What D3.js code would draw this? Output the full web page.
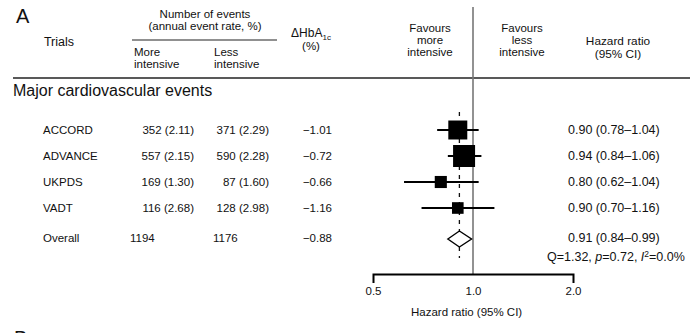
<!DOCTYPE html>
<html>
<head>
<meta charset="utf-8">
<script src="https://cdn.jsdelivr.net/npm/d3@7"></script>
<style>
  body { margin: 0; background: #fff; }
  svg { display: block; font-family: "Liberation Sans", Arial, sans-serif; }
  text { fill: #111; }
</style>
</head>
<body>
<svg id="chart" width="690" height="333"></svg>
<script>
// data
const trials = ["ACCORD", "ADVANCE", "UKPDS", "VADT"];
const moreEvents = [352, 557, 169, 116];
const moreRate = [2.11, 2.15, 1.30, 2.68];
const lessEvents = [371, 590, 87, 128];
const lessRate = [2.29, 2.28, 1.60, 2.98];
const deltaHbA1c = [-1.01, -0.72, -0.66, -1.16];
const hazard = [0.90, 0.94, 0.80, 0.90];
const ciLow = [0.78, 0.84, 0.62, 0.70];
const ciHigh = [1.04, 1.06, 1.04, 1.16];
const weights = [32, 43, 13, 12]; // study weight, sets box size

const overall = { more: 1194, less: 1176, hba1c: -0.88, hr: 0.91, lo: 0.84, hi: 0.99 };
const heterogeneity = { Q: 1.32, p: 0.72, I2: 0.0 };
const axisTicks = [0.5, 1, 2];

const svg = d3.select("#chart");
const f2 = d3.format(".2f");

// scales
const x = d3.scaleLog().domain([0.5, 2]).range([373, 573]);
const y = d3.scalePoint().domain(trials).range([130, 208]);
const yOverall = 239;
const box = d3.scaleSqrt().domain([0, d3.max(weights)]).range([0, 22]);

const rows = trials.map((t, i) => ({
    name: t, more: moreEvents[i], moreRate: moreRate[i], less: lessEvents[i], lessRate: lessRate[i],
    hb: deltaHbA1c[i], hr: hazard[i], lo: ciLow[i], hi: ciHigh[i], w: weights[i]
}));

// multi-line header labels: one text per line so lines don't overlap
function label(xc, y0, lines, anchor = "middle", size = 11.5, step = 12) {
    lines.forEach((l, i) => svg.append("text")
        .attr("x", xc).attr("y", y0 + i * step)
        .attr("text-anchor", anchor).style("font-size", size + "px").text(l));
}

// ---- header ----
svg.append("text").attr("x", 16).attr("y", 23).style("font-size", "20px").text("A");
label(59, 46, ["Trials"], "middle", 12.5);
label(205, 18, ["Number of events", "(annual event rate, %)"]);
svg.append("line").attr("x1", 132).attr("x2", 277).attr("y1", 40).attr("y2", 40)
    .attr("stroke", "#222").attr("stroke-width", 1.2);
label(134, 56, ["More", "intensive"], "start");
label(214, 56, ["Less", "intensive"], "start");
const hb = svg.append("text").attr("x", 311).attr("y", 37).attr("text-anchor", "middle").style("font-size", "12px");
hb.append("tspan").text("\u0394HbA");
hb.append("tspan").attr("dy", 3).style("font-size", "8px").text("1c");
label(311, 50, ["(%)"], "middle", 11.5);
label(430, 32, ["Favours", "more", "intensive"]);
label(522, 32, ["Favours", "less", "intensive"]);
label(618, 45, ["Hazard ratio", "(95% CI)"], "middle", 11.8, 12.5);

svg.append("line").attr("x1", 13).attr("x2", 690).attr("y1", 78).attr("y2", 78)
    .attr("stroke", "#222").attr("stroke-width", 1.5);

svg.append("text").attr("x", 13).attr("y", 96).style("font-size", "16px").text("Major cardiovascular events");

// next panel letter, cut off by the bottom edge
svg.append("text").attr("x", 14).attr("y", 345).style("font-size", "20px").text("B");

// ---- reference lines ----
svg.append("line").attr("x1", x(1)).attr("x2", x(1)).attr("y1", 7).attr("y2", 274)
    .attr("stroke", "#777").attr("stroke-width", 1.6);
svg.append("line").attr("x1", x(overall.hr)).attr("x2", x(overall.hr)).attr("y1", 112).attr("y2", 258)
    .attr("stroke", "#111").attr("stroke-width", 1.3).attr("stroke-dasharray", "4,5");

// ---- table rows ----
const tbl = svg.append("g").style("font-size", "11.5px");
const row = tbl.selectAll("g.row").data(rows).join("g").attr("class", "row")
    .attr("transform", d => `translate(0,${y(d.name) + 4})`);
row.append("text").attr("x", 43).text(d => d.name);
row.append("text").attr("x", 194).attr("text-anchor", "end").text(d => `${d.more} (${f2(d.moreRate)})`);
row.append("text").attr("x", 269).attr("text-anchor", "end").text(d => `${d.less} (${f2(d.lessRate)})`);
row.append("text").attr("x", 332).attr("text-anchor", "end").text(d => f2(d.hb));
row.append("text").attr("x", 568).style("font-size", "12.5px").text(d => `${f2(d.hr)} (${f2(d.lo)}\u2013${f2(d.hi)})`);

const ov = tbl.append("g").attr("transform", `translate(0,${yOverall + 3})`);
ov.append("text").attr("x", 43).text("Overall");
ov.append("text").attr("x", 130).text(overall.more);
ov.append("text").attr("x", 213).text(overall.less);
ov.append("text").attr("x", 332).attr("text-anchor", "end").text(f2(overall.hba1c));
ov.append("text").attr("x", 568).style("font-size", "12.5px").text(`${f2(overall.hr)} (${f2(overall.lo)}\u2013${f2(overall.hi)})`);

const q = tbl.append("text").attr("x", 547).attr("y", yOverall + 22).style("font-size", "12.5px");
q.append("tspan").text(`Q=${f2(heterogeneity.Q)}, `);
q.append("tspan").style("font-style", "italic").text("p");
q.append("tspan").text(`=${f2(heterogeneity.p)}, `);
q.append("tspan").style("font-style", "italic").text("I");
q.append("tspan").attr("dy", -4).style("font-size", "8.5px").text("2");
q.append("tspan").attr("dy", 4).text(`=${heterogeneity.I2.toFixed(1)}%`);

// ---- forest marks ----
const mk = svg.append("g");
mk.selectAll("line.ci").data(rows).join("line").attr("class", "ci")
    .attr("x1", d => x(d.lo)).attr("x2", d => x(d.hi))
    .attr("y1", d => y(d.name)).attr("y2", d => y(d.name))
    .attr("stroke", "#000").attr("stroke-width", 1.8);
mk.selectAll("rect.pt").data(rows).join("rect").attr("class", "pt")
    .attr("x", d => x(d.hr) - box(d.w) / 2).attr("y", d => y(d.name) - box(d.w) / 2)
    .attr("width", d => box(d.w)).attr("height", d => box(d.w))
    .attr("fill", "#000");
mk.append("path")
    .attr("d", `M${x(overall.lo)},${yOverall}L${x(overall.hr)},${yOverall - 8}L${x(overall.hi)},${yOverall}L${x(overall.hr)},${yOverall + 8}Z`)
    .attr("fill", "#fff").attr("stroke", "#000").attr("stroke-width", 1.4);

// ---- axis ----
const ax = svg.append("g").attr("transform", "translate(0,274)")
    .call(d3.axisBottom(x).tickValues(axisTicks).tickFormat(d3.format(".1f"))
        .tickSizeInner(0).tickSizeOuter(9).tickPadding(13));
ax.select(".domain").attr("stroke", "#000").attr("stroke-width", 2);
ax.selectAll("text").style("font-size", "11.5px").style("font-family", "Liberation Sans, Arial, sans-serif").attr("fill", "#111");
svg.append("text").attr("x", 411).attr("y", 316)
    .style("font-size", "11.5px").text("Hazard ratio (95% CI)");
</script>
</body>
</html>
